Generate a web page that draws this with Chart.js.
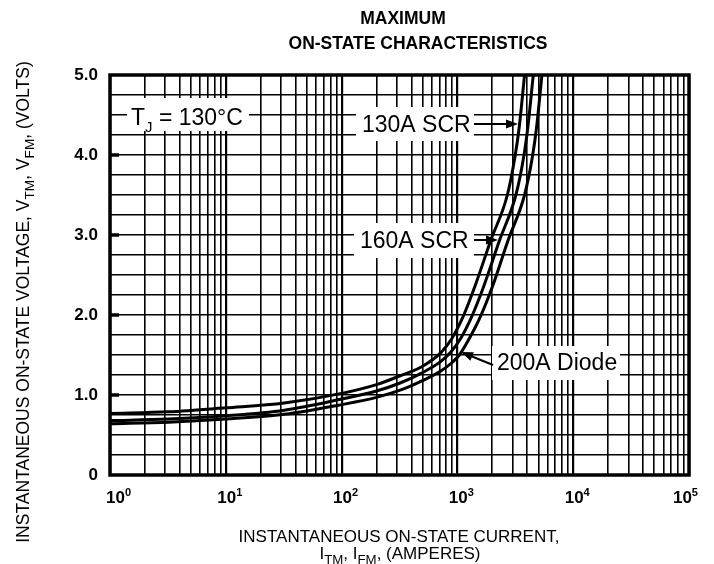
<!DOCTYPE html>
<html lang="en">
<head>
<meta charset="UTF-8">
<title>Maximum On-State Characteristics</title>
<script src="https://cdn.jsdelivr.net/npm/chart.js"></script>
<style>
  html, body { margin: 0; padding: 0; background: #fff; }
</style>
</head>
<body>
<canvas id="myChart" width="714" height="564"></canvas>
<script>
// Curves: current (A) and voltage (V)
const scr130Current = [1, 3.2, 10, 32, 100, 200, 320, 500, 720, 890, 1120, 1410, 1950, 2700, 3160, 3420, 3800];
const scr130Voltage = [0.77, 0.79, 0.84, 0.90, 1.02, 1.13, 1.24, 1.36, 1.53, 1.70, 1.98, 2.35, 2.94, 3.50, 4.00, 4.35, 5.00];

const scr160Current = [1, 3.2, 10, 32, 100, 200, 320, 500, 720, 870, 1060, 1330, 1680, 2320, 3200, 3760, 4060, 4520];
const scr160Voltage = [0.68, 0.70, 0.74, 0.81, 0.95, 1.05, 1.15, 1.28, 1.42, 1.53, 1.70, 1.98, 2.35, 2.94, 3.50, 4.00, 4.35, 5.00];

const diode200Current = [1, 3.2, 10, 32, 100, 200, 320, 500, 720, 890, 1040, 1260, 1580, 2000, 2750, 3800, 4470, 4830, 5370];
const diode200Voltage = [0.64, 0.66, 0.70, 0.76, 0.88, 0.97, 1.06, 1.18, 1.30, 1.40, 1.50, 1.70, 1.98, 2.35, 2.94, 3.50, 4.00, 4.35, 5.00];

// Axis ticks
const decades = [1, 10, 100, 1000, 10000, 100000];
const decadeExponents = ["0", "1", "2", "3", "4", "5"];
const voltLabels = [0, 1, 2, 3, 4, 5];

const FONT = "'Liberation Sans', Arial, Helvetica, sans-serif";
Chart.defaults.font.family = FONT;
Chart.defaults.color = "#000";

const toPoints = (xs, ys) => xs.map((v, i) => ({ x: v, y: ys[i] }));

// text made of parts: ["T"], ["J", "sub"], ...
function richWidth(ctx, parts, size, weight, small) {
    let w = 0;
    parts.forEach(p => {
        const s = p[1] ? size * small : size;
        ctx.font = `${weight} ${s}px ${FONT}`;
        w += ctx.measureText(p[0]).width;
    });
    return w;
}
function drawRich(ctx, parts, x, y, size, weight, align, small = 0.65) {
    const w = richWidth(ctx, parts, size, weight, small);
    let cx = align === "center" ? x - w / 2 : x;
    ctx.textAlign = "left";
    ctx.textBaseline = "alphabetic";
    parts.forEach(p => {
        const s = p[1] ? size * small : size;
        const dy = p[1] === "sub" ? size * 0.3 : (p[1] === "sup" ? -size * 0.42 : 0);
        ctx.font = `${weight} ${s}px ${FONT}`;
        ctx.fillText(p[0], cx, y + dy);
        cx += ctx.measureText(p[0]).width;
    });
}
function arrow(ctx, x1, y1, x2, y2) {
    const ang = Math.atan2(y2 - y1, x2 - x1);
    ctx.beginPath();
    ctx.moveTo(x1, y1);
    ctx.lineTo(x2 - 8 * Math.cos(ang), y2 - 8 * Math.sin(ang));
    ctx.lineWidth = 2;
    ctx.stroke();
    ctx.beginPath();
    ctx.moveTo(x2, y2);
    ctx.lineTo(x2 - 12 * Math.cos(ang) + 4.5 * Math.sin(ang), y2 - 12 * Math.sin(ang) - 4.5 * Math.cos(ang));
    ctx.lineTo(x2 - 12 * Math.cos(ang) - 4.5 * Math.sin(ang), y2 - 12 * Math.sin(ang) + 4.5 * Math.cos(ang));
    ctx.closePath();
    ctx.fill();
}
function label(ctx, parts, x, baseline, size, box) {
    ctx.fillStyle = "#fff";
    ctx.fillRect(box[0], box[1], box[2] - box[0], box[3] - box[1]);
    ctx.fillStyle = "#000";
    drawRich(ctx, parts, x, baseline, size, "normal", "left");
}

const overlay = {
    id: "overlay",
    afterDraw(chart) {
        const { ctx, chartArea: a, scales: { x, y } } = chart;
        ctx.save();
        ctx.fillStyle = "#000";
        ctx.strokeStyle = "#000";

        // frame
        ctx.lineWidth = 3.5;
        ctx.strokeRect(a.left, a.top, a.right - a.left, a.bottom - a.top);

        // volt tick marks
        voltLabels.slice(1, 5).forEach(v => {
            const py = y.getPixelForValue(v);
            ctx.beginPath();
            ctx.moveTo(a.left, py);
            ctx.lineTo(a.left + 9, py);
            ctx.lineWidth = 3.5;
            ctx.stroke();
        });

        // decade labels 10^n
        decades.forEach((d, i) => {
            const px = x.getPixelForValue(d);
            const parts = [["10"], [decadeExponents[i], "sup"]];
            const w = richWidth(ctx, parts, 17, "bold", 0.65);
            let left = px + 4 - w / 2;
            left = Math.max(106, Math.min(left, 698 - w));
            drawRich(ctx, parts, left, 503, 17, "bold", "left");
        });

        // title
        ctx.textAlign = "center";
        ctx.font = `bold 17.5px ${FONT}`;
        ctx.fillText("MAXIMUM", 403, 24);
        ctx.fillText("ON-STATE CHARACTERISTICS", 418, 49);

        // x axis title
        ctx.font = `normal 17px ${FONT}`;
        ctx.textAlign = "center";
        ctx.fillText("INSTANTANEOUS ON-STATE CURRENT,", 399, 542);
        drawRich(ctx, [["I"], ["TM", "sub"], [", I"], ["FM", "sub"], [", (AMPERES)"]], 400, 559, 17, "normal", "center", 0.78);

        // y axis title
        ctx.save();
        ctx.translate(29, 302);
        ctx.rotate(-Math.PI / 2);
        drawRich(ctx, [["INSTANTANEOUS ON-STATE VOLTAGE, V"], ["TM", "sub"], [", V"], ["FM", "sub"], [", (VOLTS)"]], 0, 0, 17.5, "normal", "center", 0.78);
        ctx.restore();

        // annotations
        label(ctx, [["T"], ["J", "sub"], [" = 130°C"]], 131, 125, 23, [127, 98, 249, 131]);
        label(ctx, [["130A SCR"]], 362, 132, 23, [356, 107, 474, 141]);
        arrow(ctx, 474, 124, 518, 124);
        label(ctx, [["160A SCR"]], 360, 248, 23, [354, 223, 474, 258]);
        arrow(ctx, 474, 240, 498, 240);
        label(ctx, [["200A Diode"]], 497, 370, 23, [492, 346, 620, 380]);
        arrow(ctx, 493, 365, 461, 352);

        ctx.restore();
    }
};

const lineStyle = {
    showLine: true,
    borderColor: "#000",
    borderWidth: 3,
    pointRadius: 0,
    cubicInterpolationMode: "monotone",
    fill: false
};

new Chart(document.getElementById("myChart"), {
    type: "scatter",
    data: {
        datasets: [
            { label: "130A SCR", data: toPoints(scr130Current, scr130Voltage), ...lineStyle },
            { label: "160A SCR", data: toPoints(scr160Current, scr160Voltage), ...lineStyle },
            { label: "200A Diode", data: toPoints(diode200Current, diode200Voltage), ...lineStyle }
        ]
    },
    options: {
        responsive: false,
        animation: false,
        devicePixelRatio: 1,
        layout: { padding: { left: 0, right: 25, top: 75, bottom: 0 } },
        plugins: {
            legend: { display: false },
            tooltip: { enabled: false }
        },
        scales: {
            x: {
                type: "logarithmic",
                min: 1,
                max: 100000,
                afterBuildTicks: scale => {
                    const t = [];
                    decades.slice(0, 5).forEach(d => {
                        for (let m = 1; m < 10; m++) t.push({ value: d * m });
                    });
                    t.push({ value: 100000 });
                    scale.ticks = t;
                },
                afterFit: scale => { scale.height = 89; },
                ticks: { display: false, autoSkip: false },
                border: { display: false },
                grid: {
                    color: "#000",
                    lineWidth: c => (decades.includes(c.tick && c.tick.value) ? 2.2 : 1.6),
                    drawTicks: false
                }
            },
            y: {
                min: 0,
                max: 5,
                afterBuildTicks: scale => {
                    const t = [];
                    for (let v = 0; v <= 20; v++) t.push({ value: v / 4 });
                    scale.ticks = t;
                },
                afterFit: scale => { scale.width = 110; },
                ticks: {
                    autoSkip: false,
                    padding: 12,
                    color: "#000",
                    font: { size: 17, weight: "bold" },
                    callback: v => (voltLabels.includes(v) ? (v === 0 ? "0" : v.toFixed(1)) : "")
                },
                border: { display: false },
                grid: { color: "#000", lineWidth: 1.6, drawTicks: false }
            }
        }
    },
    plugins: [overlay]
});
</script>
</body>
</html>
